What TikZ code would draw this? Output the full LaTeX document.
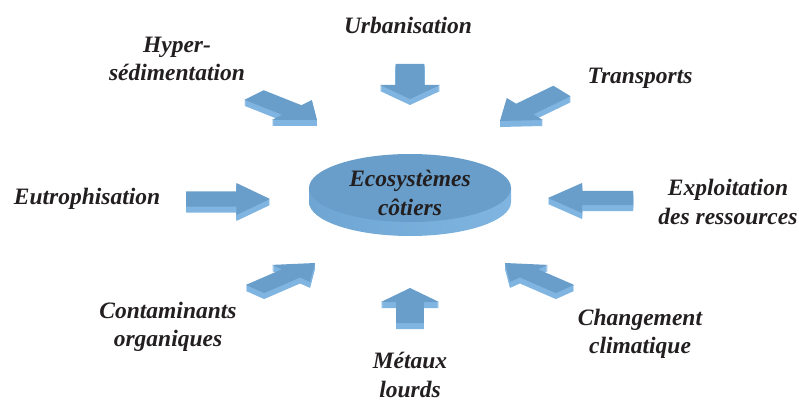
\documentclass[tikz,border=0pt]{standalone}
\usepackage{fontspec}
\setmainfont{Liberation Serif}
\definecolor{topc}{RGB}{104,158,201}
\definecolor{sidec}{RGB}{128,181,225}
\definecolor{sidel}{RGB}{110,165,210}
\definecolor{txt}{RGB}{35,31,32}
\tikzset{
  arrtop/.style={fill=topc},
  arrside/.style={fill=sidec},
  lbl/.style={font=\fontsize{23.5}{28.5}\selectfont\bfseries\itshape, text=txt, align=center, inner sep=0pt}
}
% tip x, tip y, tail dx, tail dy, half-head wx, wy, y offset
\newcommand\apath[7]{(#1,{#2+#7})
 -- ({#1+0.4*(#3)+(#5)},{#2+0.4*(#4)+(#6)+#7})
 -- ({#1+0.4*(#3)+0.48*(#5)},{#2+0.4*(#4)+0.48*(#6)+#7})
 -- ({#1+(#3)+0.48*(#5)},{#2+(#4)+0.48*(#6)+#7})
 -- ({#1+(#3)-0.48*(#5)},{#2+(#4)-0.48*(#6)+#7})
 -- ({#1+0.4*(#3)-0.48*(#5)},{#2+0.4*(#4)-0.48*(#6)+#7})
 -- ({#1+0.4*(#3)-(#5)},{#2+0.4*(#4)-(#6)+#7}) -- cycle}
\newcommand\tdarr[6]{%
  \foreach \e in {1,...,6}{\fill[arrside] \apath{#1}{#2}{#3}{#4}{#5}{#6}{\e};}
  \fill[arrtop] \apath{#1}{#2}{#3}{#4}{#5}{#6}{0};}
\begin{document}
\begin{tikzpicture}[x=1pt,y=-1pt]
\useasboundingbox (0,0) rectangle (799,403);
% central disc
\shade[left color=sidel, right color=sidec] (309,188) -- (309,202) arc[start angle=180, end angle=360, x radius=101pt, y radius=34pt] -- (511,188) -- cycle;
\fill[topc] (410,188) ellipse [x radius=101pt, y radius=34pt];
\node[lbl] (eco) at (410,193) {Ecosystèmes\\côtiers};
% arrows
\tdarr{410}{99}{0}{-35}{30}{0}
\tdarr{410}{288}{0}{35}{29}{0}
\tdarr{270}{199}{-84}{0}{0}{16}
\tdarr{548}{198}{85}{0}{0}{15}
\tdarr{317}{120}{-63}{-25}{20}{-10}
\tdarr{500}{121}{62}{-30}{-18}{-11}
\tdarr{315}{263}{-60}{26}{19}{8.5}
\tdarr{505}{263}{60}{26}{-19}{8.5}
% labels
\node[lbl] (hyper) at (177,59) {Hyper-\\sédimentation};
\node[lbl] (urb) at (408,25) {Urbanisation};
\node[lbl] (trans) at (640,78) {Transports};
\node[lbl] (eutro) at (87,199) {Eutrophisation};
\node[lbl] (explo) at (728,202) {Exploitation\\des ressources};
\node[lbl] (conta) at (168,327) {Contaminants\\organiques};
\node[lbl] (metaux) at (410,375) {Métaux\\lourds};
\node[lbl] (chang) at (640,334) {Changement\\climatique};
\end{tikzpicture}
\end{document}
